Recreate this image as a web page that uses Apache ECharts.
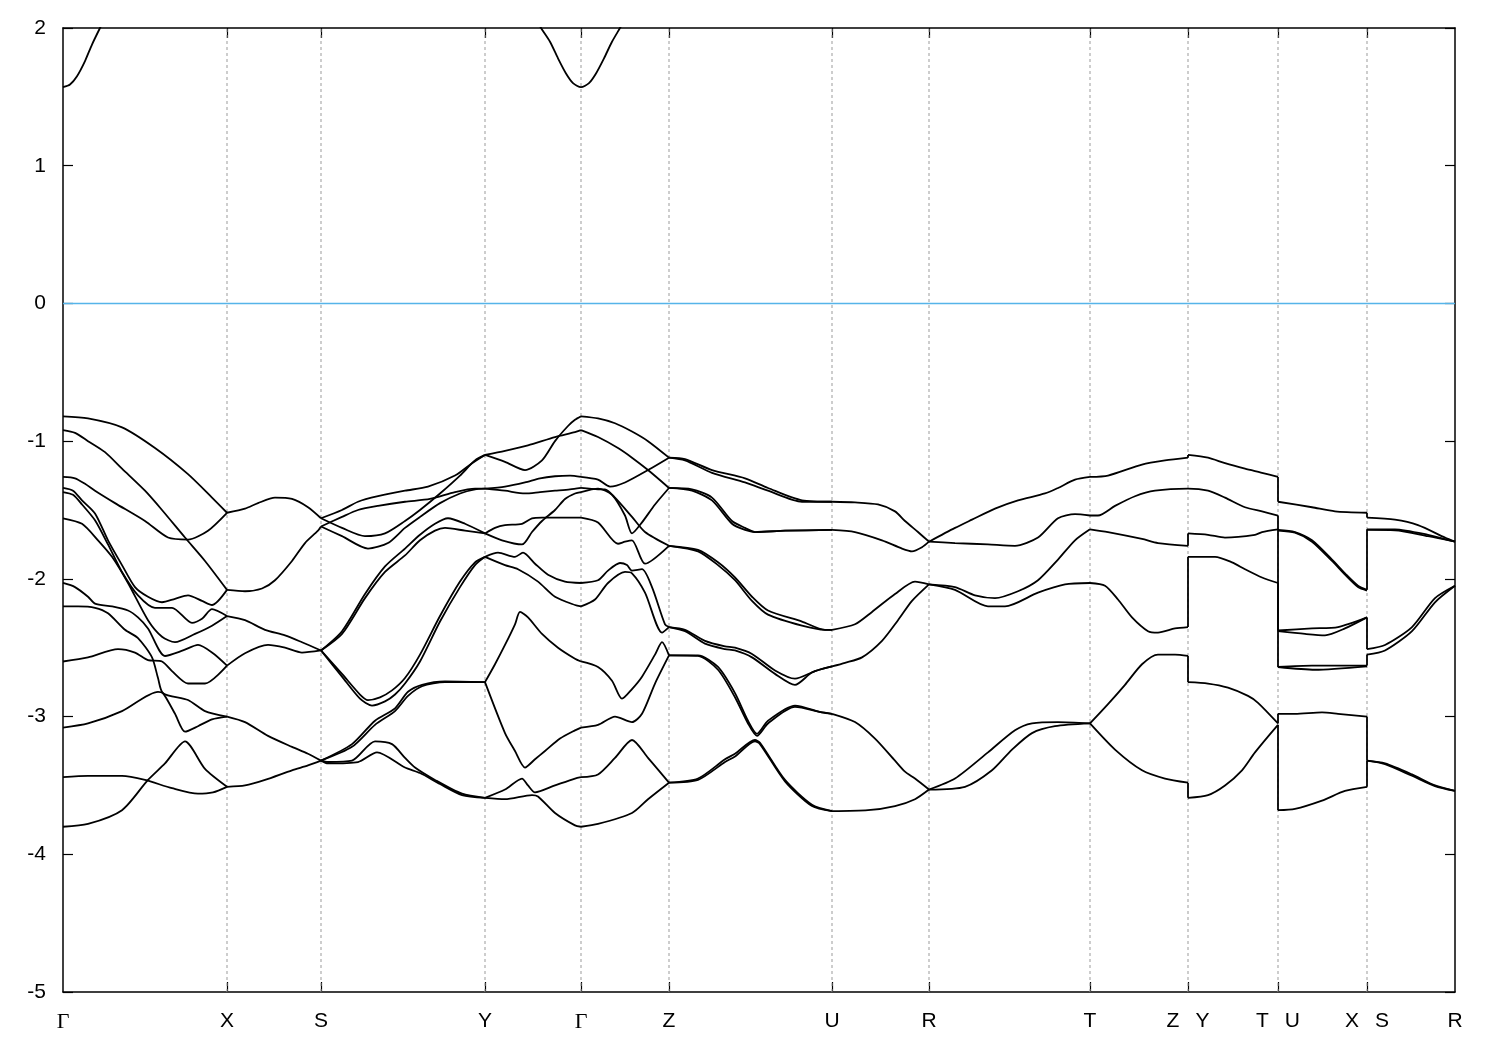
<!DOCTYPE html>
<html><head><meta charset="utf-8">
<script src="https://cdn.jsdelivr.net/npm/echarts/dist/echarts.min.js"></script>
<style>html,body{margin:0;padding:0;background:#fff}#c{width:1500px;height:1050px}</style>
</head><body><div id="c"></div>
<script>
// high-symmetry k positions (path length, arbitrary units) and names
const kPos = [0,164,258,422,518,606,769,866,1027,1125,1215,1304,1392];
const kNames = ['Γ','X','S','Y','Γ','Z','U','R','T','Z|Y','T|U','X|S','R'];
const eMin = -5, eMax = 2, eStep = 1;
const fermiLevel = 0;

// conduction band pieces (clipped by the frame)
const condBand1 = [[0,1.57],[7,1.59],[14,1.65],[22,1.76],[29,1.88],[37,2.0],[44,2.1]];
const condBand2 = [[470,2.1],[478,2.0],[487,1.90],[495,1.78],[503,1.67],[510,1.60],[518,1.57],[526,1.60],[533,1.67],[541,1.78],[549,1.90],[557,2.0],[565,2.1]];

// valence bands, per path segment: each entry is one curve [[k,E],...]
const bandsGX = [
 [[0,-0.82],[25,-0.835],[59,-0.90],[92,-1.05],[125,-1.24],[149,-1.41],[164,-1.52]],
 [[0,-0.92],[12,-0.94],[25,-1.0],[42,-1.08],[59,-1.20],[82,-1.36],[99,-1.50],[122,-1.70],[142,-1.87],[164,-2.08]],
 [[0,-1.26],[12,-1.27],[22,-1.31],[32,-1.36],[52,-1.45],[82,-1.58],[105,-1.70],[125,-1.715],[145,-1.65],[164,-1.52]],
 [[0,-1.34],[10,-1.36],[19,-1.43],[32,-1.525],[45,-1.72],[59,-1.90],[72,-2.06],[85,-2.13],[99,-2.17],[112,-2.145],[125,-2.12],[139,-2.16],[149,-2.19],[164,-2.08]],
 [[0,-1.37],[10,-1.39],[19,-1.46],[32,-1.575],[45,-1.75],[59,-1.95],[75,-2.12],[92,-2.21],[109,-2.21],[129,-2.32],[139,-2.29],[149,-2.22],[164,-2.27]],
 [[0,-1.56],[19,-1.60],[35,-1.72],[49,-1.84],[65,-2.03],[85,-2.30],[99,-2.42],[112,-2.46],[132,-2.40],[149,-2.34],[164,-2.27]],
 [[0,-2.03],[12,-2.06],[25,-2.13],[32,-2.18],[49,-2.20],[65,-2.23],[75,-2.28],[85,-2.36],[102,-2.56],[120,-2.52],[135,-2.48],[150,-2.54],[164,-2.63]],
 [[0,-2.2],[15,-2.2],[32,-2.21],[45,-2.25],[62,-2.37],[75,-2.43],[89,-2.57],[95,-2.72],[100,-2.83],[125,-2.88],[142,-2.96],[164,-3.0]],
 [[0,-2.60],[25,-2.57],[55,-2.51],[72,-2.535],[85,-2.59],[99,-2.60],[109,-2.67],[125,-2.76],[142,-2.76],[164,-2.63]],
 [[0,-3.08],[25,-3.05],[59,-2.96],[95,-2.82],[100,-2.83],[112,-2.98],[122,-3.11],[135,-3.07],[149,-3.02],[164,-3.0]],
 [[0,-3.44],[25,-3.43],[59,-3.43],[82,-3.46],[109,-3.52],[135,-3.56],[150,-3.55],[164,-3.51]],
 [[0,-3.80],[25,-3.78],[59,-3.68],[85,-3.46],[102,-3.34],[122,-3.18],[142,-3.38],[164,-3.51]]
];
const bandsXS = [
 [[164,-1.52],[182,-1.49],[195,-1.45],[212,-1.41],[229,-1.42],[245,-1.48],[258,-1.56]],
 [[164,-2.08],[182,-2.09],[199,-2.07],[212,-2.01],[229,-1.87],[242,-1.74],[255,-1.65],[258,-1.62]],
 [[164,-2.27],[182,-2.30],[202,-2.37],[222,-2.41],[239,-2.46],[258,-2.52]],
 [[164,-2.63],[182,-2.54],[205,-2.48],[222,-2.50],[239,-2.535],[258,-2.52]],
 [[164,-3.0],[182,-3.04],[205,-3.14],[229,-3.22],[245,-3.27],[258,-3.32]],
 [[164,-3.51],[182,-3.50],[202,-3.46],[229,-3.39],[245,-3.355],[258,-3.32]]
];
const bandsSY = [
 [[258,-1.56],[279,-1.50],[295,-1.44],[315,-1.40],[342,-1.36],[365,-1.33],[392,-1.25],[409,-1.16],[422,-1.10]],
 [[258,-1.62],[279,-1.55],[295,-1.50],[315,-1.47],[342,-1.44],[367,-1.42],[392,-1.37],[412,-1.345],[422,-1.345]],
 [[258,-1.56],[279,-1.63],[302,-1.69],[322,-1.67],[342,-1.58],[357,-1.50],[377,-1.38],[397,-1.25],[412,-1.14],[422,-1.10]],
 [[258,-1.62],[279,-1.69],[305,-1.78],[325,-1.74],[342,-1.63],[357,-1.55],[377,-1.45],[397,-1.38],[412,-1.35],[422,-1.345]],
 [[258,-2.52],[279,-2.38],[302,-2.11],[322,-1.91],[342,-1.78],[357,-1.68],[372,-1.60],[385,-1.56],[402,-1.60],[422,-1.67]],
 [[258,-2.52],[279,-2.40],[302,-2.14],[322,-1.95],[342,-1.83],[357,-1.72],[372,-1.65],[382,-1.63],[402,-1.65],[422,-1.67]],
 [[258,-2.52],[279,-2.69],[297,-2.84],[305,-2.88],[317,-2.86],[329,-2.81],[342,-2.72],[357,-2.55],[377,-2.27],[397,-2.02],[412,-1.88],[422,-1.84]],
 [[258,-2.52],[279,-2.71],[297,-2.87],[309,-2.92],[322,-2.89],[332,-2.84],[342,-2.76],[357,-2.60],[377,-2.31],[397,-2.06],[412,-1.90],[422,-1.84]],
 [[258,-3.32],[289,-3.20],[312,-3.03],[332,-2.94],[345,-2.82],[359,-2.77],[382,-2.745],[422,-2.75]],
 [[258,-3.32],[289,-3.22],[312,-3.06],[332,-2.96],[345,-2.85],[359,-2.78],[382,-2.75],[422,-2.75]],
 [[258,-3.32],[265,-3.33],[289,-3.32],[312,-3.18],[329,-3.20],[342,-3.30],[352,-3.37],[372,-3.46],[399,-3.56],[422,-3.59]],
 [[258,-3.32],[265,-3.34],[295,-3.33],[314,-3.26],[342,-3.37],[357,-3.41],[377,-3.49],[399,-3.57],[422,-3.59]]
];
const bandsYG = [
 [[422,-1.10],[442,-1.07],[465,-1.03],[492,-0.97],[512,-0.935],[518,-0.92]],
 [[422,-1.10],[442,-1.15],[462,-1.21],[479,-1.14],[492,-1.00],[505,-0.89],[512,-0.845],[518,-0.82]],
 [[422,-1.345],[442,-1.33],[462,-1.30],[477,-1.27],[492,-1.255],[507,-1.25],[518,-1.26]],
 [[422,-1.345],[442,-1.36],[462,-1.38],[477,-1.37],[492,-1.36],[507,-1.35],[518,-1.34]],
 [[422,-1.67],[432,-1.63],[442,-1.61],[459,-1.60],[469,-1.56],[479,-1.555],[512,-1.555],[518,-1.555]],
 [[422,-1.67],[439,-1.72],[459,-1.75],[469,-1.66],[479,-1.58],[492,-1.50],[502,-1.42],[512,-1.38],[518,-1.37]],
 [[422,-1.84],[435,-1.81],[452,-1.84],[460,-1.81],[472,-1.89],[485,-1.97],[502,-2.02],[518,-2.03]],
 [[422,-1.84],[442,-1.90],[455,-1.93],[475,-2.02],[492,-2.13],[512,-2.19],[518,-2.2]],
 [[422,-2.75],[432,-2.62],[442,-2.48],[452,-2.33],[457,-2.24],[465,-2.28],[479,-2.40],[495,-2.50],[512,-2.58],[518,-2.6]],
 [[422,-2.75],[442,-3.12],[452,-3.25],[462,-3.37],[472,-3.31],[482,-3.25],[497,-3.16],[512,-3.10],[518,-3.08]],
 [[422,-3.59],[442,-3.53],[459,-3.45],[465,-3.50],[472,-3.55],[492,-3.50],[512,-3.45],[518,-3.44]],
 [[422,-3.59],[442,-3.60],[469,-3.57],[475,-3.58],[492,-3.70],[512,-3.79],[518,-3.80]]
];
const bandsGZ = [
 [[518,-0.82],[535,-0.835],[552,-0.87],[569,-0.93],[585,-1.0],[606,-1.12]],
 [[518,-0.92],[535,-0.97],[555,-1.05],[569,-1.12],[585,-1.21],[606,-1.34]],
 [[518,-1.26],[535,-1.28],[547,-1.33],[562,-1.30],[585,-1.21],[606,-1.12]],
 [[518,-1.34],[535,-1.35],[542,-1.35],[552,-1.41],[569,-1.55],[582,-1.66],[606,-1.76]],
 [[518,-1.37],[535,-1.345],[549,-1.39],[562,-1.54],[569,-1.67],[579,-1.59],[592,-1.46],[606,-1.34]],
 [[518,-1.555],[535,-1.59],[555,-1.745],[562,-1.73],[569,-1.72],[582,-1.89],[606,-1.76]],
 [[518,-2.03],[535,-2.01],[545,-1.94],[557,-1.885],[564,-1.90],[569,-1.94],[579,-1.93],[589,-2.06],[602,-2.33],[606,-2.35]],
 [[518,-2.2],[532,-2.15],[545,-2.03],[562,-1.95],[569,-1.96],[582,-2.10],[599,-2.39],[606,-2.35]],
 [[518,-2.6],[535,-2.64],[549,-2.74],[559,-2.87],[569,-2.80],[579,-2.71],[592,-2.55],[599,-2.46],[606,-2.556]],
 [[518,-3.08],[535,-3.06],[552,-3.00],[569,-3.04],[579,-2.98],[592,-2.76],[606,-2.556]],
 [[518,-3.44],[535,-3.42],[552,-3.30],[569,-3.17],[585,-3.30],[606,-3.48]],
 [[518,-3.80],[535,-3.78],[569,-3.70],[585,-3.60],[606,-3.48]]
];
const bandsZU = [
 [[606,-1.12],[622,-1.13],[649,-1.21],[682,-1.27],[705,-1.34],[739,-1.43],[769,-1.44]],
 [[606,-1.12],[622,-1.14],[649,-1.23],[682,-1.30],[705,-1.36],[739,-1.44],[769,-1.44]],
 [[606,-1.34],[629,-1.35],[649,-1.41],[669,-1.58],[682,-1.63],[692,-1.66],[722,-1.65],[769,-1.645]],
 [[606,-1.34],[629,-1.36],[649,-1.43],[669,-1.60],[682,-1.645],[692,-1.66],[722,-1.65],[769,-1.645]],
 [[606,-1.76],[635,-1.79],[655,-1.88],[672,-1.99],[689,-2.13],[705,-2.23],[739,-2.31],[762,-2.37],[769,-2.37]],
 [[606,-1.76],[635,-1.80],[655,-1.90],[672,-2.01],[689,-2.16],[705,-2.26],[739,-2.34],[762,-2.37],[769,-2.37]],
 [[606,-2.35],[622,-2.37],[642,-2.45],[662,-2.49],[672,-2.50],[689,-2.545],[712,-2.665],[732,-2.725],[752,-2.67],[769,-2.636]],
 [[606,-2.35],[622,-2.38],[642,-2.47],[662,-2.51],[672,-2.52],[689,-2.57],[712,-2.69],[732,-2.77],[749,-2.68],[769,-2.636]],
 [[606,-2.556],[635,-2.556],[655,-2.64],[672,-2.83],[685,-3.03],[694,-3.125],[705,-3.03],[732,-2.92],[759,-2.97],[769,-2.98]],
 [[606,-2.556],[635,-2.56],[655,-2.66],[672,-2.86],[685,-3.05],[694,-3.14],[705,-3.05],[732,-2.93],[759,-2.97],[769,-2.98]],
 [[606,-3.48],[635,-3.45],[662,-3.31],[672,-3.27],[692,-3.17],[697,-3.19],[722,-3.46],[749,-3.64],[769,-3.687]],
 [[606,-3.48],[635,-3.46],[662,-3.33],[672,-3.29],[692,-3.18],[697,-3.20],[722,-3.47],[749,-3.65],[769,-3.687]]
];
const bandsUR = [
 [[769,-1.44],[792,-1.445],[815,-1.46],[832,-1.51],[842,-1.58],[855,-1.66],[866,-1.73]],
 [[769,-1.645],[792,-1.66],[819,-1.72],[839,-1.78],[849,-1.80],[859,-1.77],[866,-1.73]],
 [[769,-2.37],[792,-2.33],[809,-2.24],[832,-2.11],[852,-2.02],[866,-2.04]],
 [[769,-2.636],[782,-2.61],[799,-2.57],[819,-2.45],[835,-2.30],[849,-2.16],[866,-2.04]],
 [[769,-2.98],[792,-3.04],[812,-3.16],[832,-3.32],[842,-3.40],[852,-3.45],[866,-3.53]],
 [[769,-3.687],[805,-3.68],[832,-3.65],[852,-3.60],[866,-3.53]]
];
const bandsRT = [
 [[866,-1.73],[892,-1.63],[909,-1.57],[932,-1.49],[955,-1.43],[982,-1.38],[995,-1.34],[1012,-1.28],[1027,-1.26]],
 [[866,-1.73],[892,-1.74],[925,-1.75],[952,-1.76],[975,-1.70],[995,-1.56],[1012,-1.53],[1027,-1.54]],
 [[866,-2.04],[892,-2.06],[912,-2.12],[932,-2.14],[955,-2.09],[975,-2.01],[995,-1.86],[1012,-1.72],[1027,-1.64]],
 [[866,-2.04],[892,-2.08],[925,-2.20],[942,-2.20],[975,-2.10],[1002,-2.04],[1027,-2.03]],
 [[866,-3.53],[892,-3.45],[925,-3.26],[952,-3.10],[969,-3.05],[995,-3.04],[1027,-3.05]],
 [[866,-3.53],[902,-3.51],[929,-3.39],[949,-3.24],[969,-3.12],[992,-3.07],[1027,-3.05]]
];
// T -> Z|Y -> T|U -> X|S -> R (vertical steps at the path breaks)
const bandsTR = [
 [[1027,-1.26],[1045,-1.25],[1079,-1.17],[1102,-1.14],[1125,-1.12],[1125,-1.10],[1145,-1.12],[1162,-1.16],[1182,-1.20],[1199,-1.23],[1215,-1.26],[1215,-1.44],[1249,-1.48],[1272,-1.51],[1304,-1.52],[1304,-1.555],[1332,-1.57],[1355,-1.61],[1382,-1.70],[1392,-1.73]],
 [[1027,-1.54],[1035,-1.54],[1052,-1.47],[1072,-1.40],[1092,-1.36],[1125,-1.345],[1145,-1.36],[1162,-1.41],[1182,-1.48],[1199,-1.51],[1215,-1.54],[1215,-1.645],[1232,-1.66],[1249,-1.72],[1269,-1.86],[1282,-1.96],[1295,-2.05],[1304,-2.08],[1304,-1.64],[1332,-1.64],[1365,-1.68],[1392,-1.73]],
 [[1215,-1.65],[1232,-1.665],[1249,-1.73],[1269,-1.87],[1282,-1.97],[1295,-2.06],[1304,-2.085]],
 [[1304,-1.645],[1332,-1.647],[1365,-1.69],[1392,-1.73]],
 [[1027,-1.64],[1045,-1.66],[1079,-1.71],[1095,-1.74],[1125,-1.76],[1125,-1.67],[1145,-1.68],[1162,-1.70],[1192,-1.68],[1199,-1.66],[1215,-1.64],[1215,-2.375],[1249,-2.36],[1275,-2.35],[1304,-2.28],[1304,-2.51],[1322,-2.48],[1349,-2.35],[1372,-2.14],[1392,-2.05]],
 [[1215,-2.38],[1242,-2.40],[1262,-2.41],[1282,-2.36],[1304,-2.28]],
 [[1027,-2.03],[1042,-2.05],[1055,-2.15],[1069,-2.28],[1085,-2.38],[1095,-2.39],[1112,-2.36],[1125,-2.35],[1125,-1.84],[1152,-1.84],[1169,-1.88],[1182,-1.93],[1199,-1.99],[1215,-2.03],[1215,-2.64],[1249,-2.63],[1304,-2.63],[1304,-2.55],[1322,-2.52],[1349,-2.38],[1372,-2.17],[1392,-2.05]],
 [[1215,-2.64],[1252,-2.66],[1304,-2.635]],
 [[1027,-3.05],[1045,-2.91],[1062,-2.77],[1079,-2.62],[1095,-2.55],[1112,-2.55],[1125,-2.56],[1125,-2.75],[1145,-2.76],[1165,-2.79],[1185,-2.85],[1195,-2.90],[1215,-3.05],[1215,-2.98],[1232,-2.98],[1259,-2.97],[1275,-2.98],[1304,-3.0],[1304,-3.32],[1322,-3.34],[1349,-3.42],[1372,-3.50],[1392,-3.54]],
 [[1027,-3.05],[1052,-3.24],[1079,-3.39],[1102,-3.45],[1125,-3.48],[1125,-3.59],[1145,-3.57],[1162,-3.50],[1179,-3.39],[1192,-3.26],[1215,-3.06],[1215,-3.68],[1232,-3.67],[1259,-3.61],[1282,-3.54],[1304,-3.51],[1304,-3.32],[1322,-3.345],[1349,-3.43],[1372,-3.505],[1392,-3.54]]
];

const chart = echarts.init(document.getElementById('c'), null, {renderer: 'canvas'});
const innerTicks = kPos.slice(1, -1);
const series = [];
innerTicks.forEach(k => series.push({
  type: 'line', data: [[k, eMin], [k, eMax]], symbol: 'none', silent: true, z: 1,
  lineStyle: {color: '#9c9c9c', width: 1, type: [3, 3]}, animation: false
}));
series.push({type: 'line', data: [[kPos[0], fermiLevel], [kPos[kPos.length - 1], fermiLevel]], symbol: 'none', silent: true, z: 2,
  lineStyle: {color: '#56b4e9', width: 1.6}, animation: false});

// split a curve into continuous pieces and vertical steps (same k twice)
function pieces(c) {
  const out = []; let cur = [c[0]];
  for (let i = 1; i < c.length; i++) {
    if (c[i][0] === c[i - 1][0]) {
      if (cur.length > 1) out.push(cur);
      out.push([c[i - 1], c[i]]);
      cur = [c[i]];
    } else cur.push(c[i]);
  }
  if (cur.length > 1) out.push(cur);
  return out;
}
const allCurves = [].concat(bandsGX, bandsXS, bandsSY, bandsYG, bandsGZ, bandsZU, bandsUR, bandsRT, bandsTR, [condBand1, condBand2]);
allCurves.forEach(c => pieces(c).forEach(p => {
  const step = p.length === 2 && p[0][0] === p[1][0];
  series.push({
    type: 'line', data: p, symbol: 'none', silent: true, z: 3, clip: true,
    smooth: step ? false : 0.25,
    lineStyle: {color: '#000', width: 1.8}, animation: false
  });
}));

function kLabel(v) {
  const i = kPos.indexOf(v);
  if (i < 0) return '';
  const n = kNames[i];
  if (n === 'Γ') return '{g|Γ}';
  if (n.indexOf('|') >= 0) { const p = n.split('|'); return '{t|' + p[0] + '}{s| }{t|' + p[1] + '}'; }
  return '{t|' + n + '}';
}
const axisLineStyle = {color: '#000', width: 1.5};
const tickStyle = {color: '#000', width: 1.2};
chart.setOption({
  animation: false,
  backgroundColor: '#fff',
  grid: {left: 63, right: 45, top: 28, bottom: 58},
  xAxis: [
    {type: 'value', min: kPos[0], max: kPos[kPos.length - 1], position: 'bottom',
     axisLine: {show: true, onZero: false, lineStyle: axisLineStyle},
     axisTick: {show: true, inside: true, length: 10, customValues: innerTicks, lineStyle: tickStyle},
     axisLabel: {show: true, customValues: kPos, margin: 19, formatter: kLabel, color: '#000',
       rich: {t: {fontFamily: 'Liberation Sans, Arial, sans-serif', fontSize: 21, color: '#000'},
              g: {fontFamily: 'Liberation Serif, DejaVu Serif, serif', fontSize: 22, color: '#000'},
              s: {width: 16}}},
     splitLine: {show: false}},
    {type: 'value', min: kPos[0], max: kPos[kPos.length - 1], position: 'top',
     axisLine: {show: true, onZero: false, lineStyle: axisLineStyle},
     axisTick: {show: true, inside: true, length: 10, customValues: innerTicks, lineStyle: tickStyle},
     axisLabel: {show: false}, splitLine: {show: false}}
  ],
  yAxis: [
    {type: 'value', min: eMin, max: eMax, interval: eStep, position: 'left',
     axisLine: {show: true, onZero: false, lineStyle: axisLineStyle},
     axisTick: {show: true, inside: true, length: 10, lineStyle: tickStyle},
     axisLabel: {show: true, margin: 17, color: '#000', fontSize: 21, fontFamily: 'Liberation Sans, Arial, sans-serif'},
     splitLine: {show: false}},
    {type: 'value', min: eMin, max: eMax, interval: eStep, position: 'right',
     axisLine: {show: true, onZero: false, lineStyle: axisLineStyle},
     axisTick: {show: true, inside: true, length: 10, lineStyle: tickStyle},
     axisLabel: {show: false}, splitLine: {show: false}}
  ],
  series: series
});
</script>
</body></html>
